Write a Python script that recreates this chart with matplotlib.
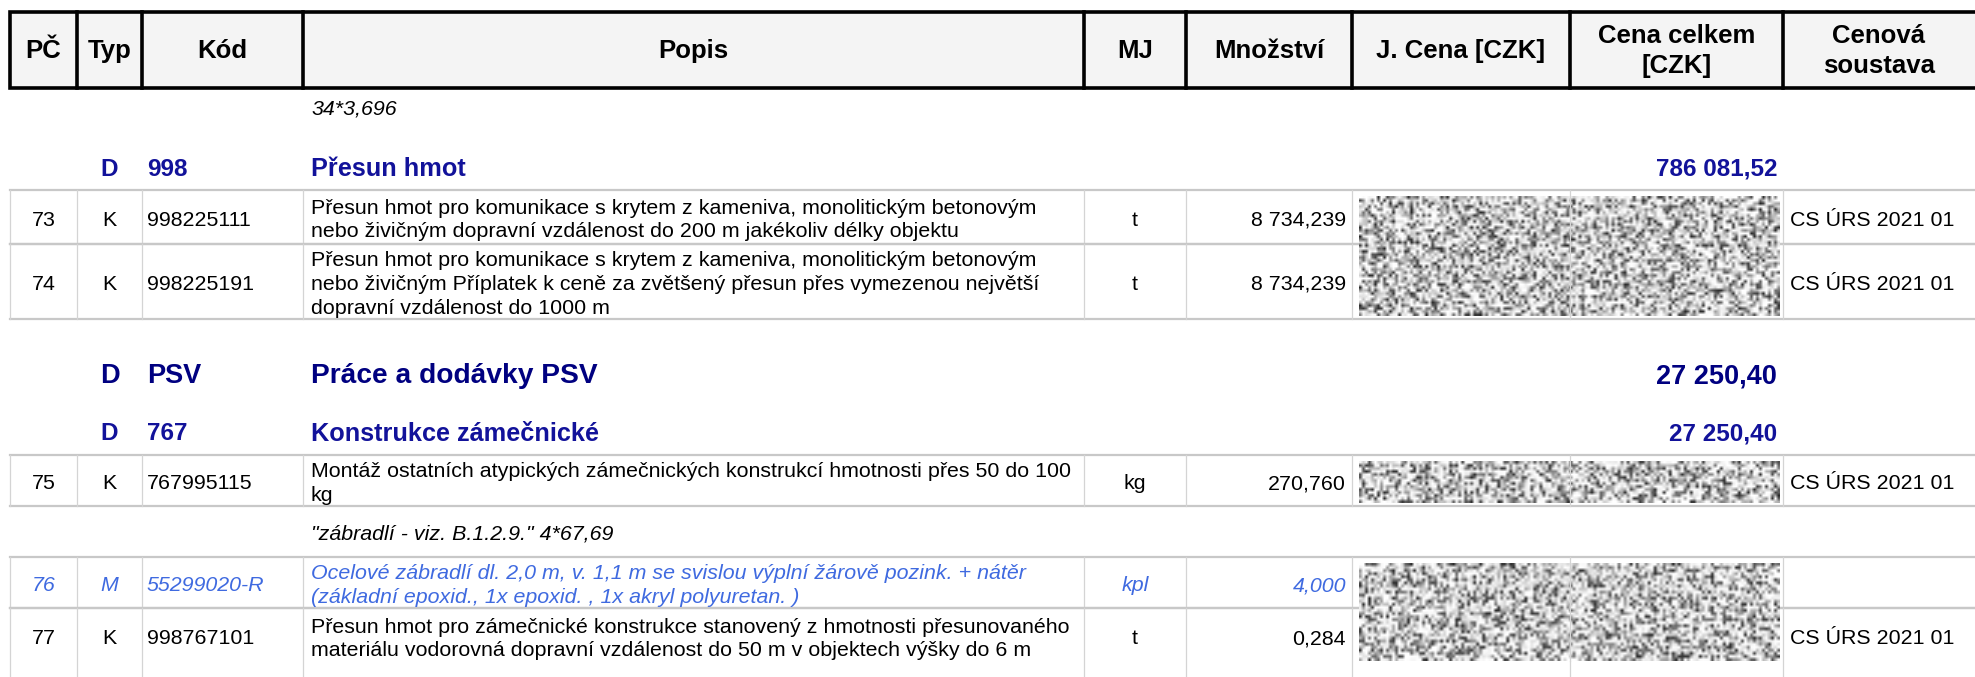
import numpy as np
import matplotlib
matplotlib.use("Agg")
import matplotlib.pyplot as plt
from matplotlib.patches import Rectangle

plt.rcParams['font.family'] = ['Liberation Sans', 'DejaVu Sans']

# table data
headers = ["PČ", "Typ", "Kód", "Popis", "MJ", "Množství", "J. Cena [CZK]", "Cena celkem\n[CZK]", "Cenová\nsoustava"]
pc = ["73", "74", "75", "76", "77"]
typ = ["K", "K", "K", "M", "K"]
kod = ["998225111", "998225191", "767995115", "55299020-R", "998767101"]
popis = [
    "Přesun hmot pro komunikace s krytem z kameniva, monolitickým betonovým\nnebo živičným dopravní vzdálenost do 200 m jakékoliv délky objektu",
    "Přesun hmot pro komunikace s krytem z kameniva, monolitickým betonovým\nnebo živičným Příplatek k ceně za zvětšený přesun přes vymezenou největší\ndopravní vzdálenost do 1000 m",
    "Montáž ostatních atypických zámečnických konstrukcí hmotnosti přes 50 do 100\nkg",
    "Ocelové zábradlí dl. 2,0 m, v. 1,1 m se svislou výplní žárově pozink. + nátěr\n(základní epoxid., 1x epoxid. , 1x akryl polyuretan. )",
    "Přesun hmot pro zámečnické konstrukce stanovený z hmotnosti přesunovaného\nmateriálu vodorovná dopravní vzdálenost do 50 m v objektech výšky do 6 m",
]
mj = ["t", "t", "kg", "kpl", "t"]
mnozstvi = ["8 734,239", "8 734,239", "270,760", "4,000", "0,284"]
soustava = ["CS ÚRS 2021 01", "CS ÚRS 2021 01", "CS ÚRS 2021 01", "", "CS ÚRS 2021 01"]
material = [False, False, False, True, False]

group_kod = ["998", "PSV", "767"]
group_name = ["Přesun hmot", "Práce a dodávky PSV", "Konstrukce zámečnické"]
group_total = ["786 081,52", "27 250,40", "27 250,40"]
notes = ["34*3,696", "\"zábradlí - viz. B.1.2.9.\" 4*67,69"]

# layout (pixels)
col_x = [10, 77, 142, 303, 1084, 1186, 1352, 1570, 1783, 1980]
order = [("note", 0), ("group", 0), ("item", 0), ("item", 1), ("group", 1),
         ("group", 2), ("item", 2), ("note", 1), ("item", 3), ("item", 4)]
band_h = [38, 64, 54, 75, 78, 58, 51, 51, 51, 56]
noise_spans = [(0, 1), (2, 2), (3, 4)]

W, H = 1975, 677
fig = plt.figure(figsize=(W / 100, H / 100), dpi=100)
ax = fig.add_axes([0, 0, 1, 1])
ax.set_xlim(0, W)
ax.set_ylim(H, 0)
ax.axis("off")

dark_blue = "#12129a"
navy = "#000080"
light_blue = "#3f6ae0"
grid = "#c8c8c8"

# header
hy0, hy1 = 12, 88
ax.add_patch(Rectangle((col_x[0], hy0), col_x[-1] - col_x[0], hy1 - hy0,
                       facecolor="#f4f4f4", edgecolor="black", lw=2.6, zorder=3))
for x in col_x[1:-1]:
    ax.plot([x, x], [hy0, hy1], color="black", lw=2.6, zorder=4)
for i, h in enumerate(headers):
    cx = (col_x[i] + col_x[i + 1]) / 2
    if i == 8:
        cx = (col_x[i] + 1975) / 2
    ax.text(cx, (hy0 + hy1) / 2 + 1, h, ha="center", va="center", fontsize=18.5,
            fontweight="bold", linespacing=1.3, zorder=5)

# body
y = hy1
row_top = {}
row_bot = {}
last = len(order) - 1
for n, ((kind, idx), bh) in enumerate(zip(order, band_h)):
    top, bot = y, y + bh
    y = bot
    if kind == "note":
        ax.text(col_x[3] + 8, (top + bot) / 2 + 2, notes[idx], ha="left", va="center",
                fontsize=15.4, style="italic")
    elif kind == "group":
        fs = 19.5 if group_kod[idx] == "PSV" else 17.5
        col = navy if group_kod[idx] == "PSV" else dark_blue
        ty = bot - 21
        ax.text((col_x[1] + col_x[2]) / 2, ty, "D", ha="center", va="center",
                fontsize=fs, fontweight="bold", color=col)
        ax.text(col_x[2] + 5, ty, group_kod[idx], ha="left", va="center",
                fontsize=fs, fontweight="bold", color=col)
        ax.text(col_x[3] + 8, ty, group_name[idx], ha="left", va="center",
                fontsize=fs * 1.04, fontweight="bold", color=col)
        ax.text(col_x[8] - 6, ty, group_total[idx], ha="right", va="center",
                fontsize=fs, fontweight="bold", color=col)
    else:
        row_top[idx], row_bot[idx] = top, bot
        cy = (top + bot) / 2 + 3
        col = light_blue if material[idx] else "black"
        st = "italic" if material[idx] else "normal"
        kw = dict(fontsize=15.4, color=col, style=st, va="center")
        ax.text((col_x[0] + col_x[1]) / 2, cy, pc[idx], ha="center", **kw)
        ax.text((col_x[1] + col_x[2]) / 2, cy, typ[idx], ha="center", **kw)
        ax.text(col_x[2] + 5, cy, kod[idx], ha="left", **kw)
        ax.text(col_x[3] + 8, cy, popis[idx], ha="left", linespacing=1.3, **kw)
        ax.text((col_x[4] + col_x[5]) / 2, cy, mj[idx], ha="center", **kw)
        ax.text(col_x[6] - 6, cy, mnozstvi[idx], ha="right", **kw)
        ax.text(col_x[8] + 7, cy, soustava[idx], ha="left", **kw)
        # grid lines (last row runs off the bottom of the page)
        vbot = H + 5 if n == last else bot
        ax.plot([col_x[0], W], [top, top], color=grid, lw=1.6, zorder=1)
        if n != last:
            ax.plot([col_x[0], W], [bot, bot], color=grid, lw=1.6, zorder=1)
        for x in col_x[:-1]:
            ax.plot([x, x], [top, vbot], color="#d4d4d4", lw=0.9, zorder=1)

# redacted price cells (texture only)
for a, b in noise_spans:
    y0, y1 = row_top[a] + 6, min(row_bot[b] - 3, 664)
    x0, x1 = col_x[6] + 7, col_x[8] - 3
    nh, nw = int((y1 - y0) / 3), int((x1 - x0) / 3)
    ii, jj = np.mgrid[0:nh, 0:nw] + (a * 101)
    v = np.sin(ii * 12.9898 + jj * 78.233) * 43758.5453
    v = v - np.floor(v)
    tex = 1.0 - 0.85 * v ** 2.2
    ax.imshow(tex, cmap="gray", vmin=0, vmax=1, extent=(x0, x1, y1, y0),
              interpolation="bilinear", aspect="auto", zorder=2)
    ax.plot([col_x[7], col_x[7]], [y0, y1], color="#d4d4d4", lw=0.9, zorder=3)

ax.set_xlim(0, W)
ax.set_ylim(H, 0)
fig.savefig("out.png", dpi=100)
